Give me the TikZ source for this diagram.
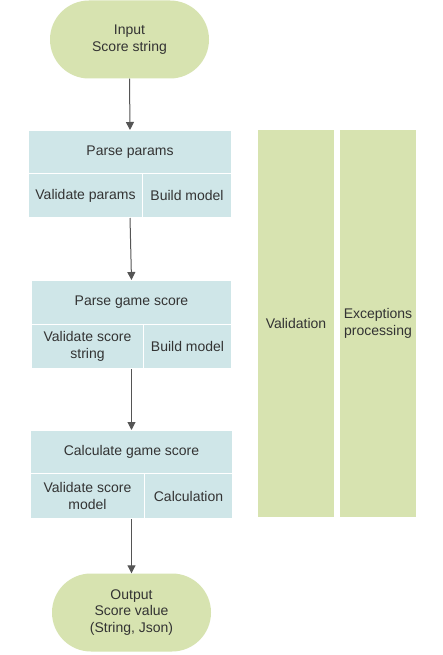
\documentclass[tikz,border=0pt]{standalone}
\usepackage{fontspec}
\setmainfont{Liberation Sans}
\usetikzlibrary{arrows.meta}
\definecolor{grn}{HTML}{D7E3B0}
\definecolor{blu}{HTML}{CFE6E8}
\definecolor{txt}{HTML}{333333}
\definecolor{arr}{HTML}{555555}
\begin{document}
\begin{tikzpicture}[x=1pt,y=-1pt,
  font=\fontsize{14}{16.5}\selectfont, text=txt,
  term/.style={fill=grn, rounded corners=39pt, minimum width=159pt, minimum height=78pt, align=center, inner sep=0pt},
  cell/.style={fill=blu, draw=white, line width=1pt, anchor=north west, align=center, inner sep=0pt},
  lane/.style={fill=grn, draw=white, line width=1pt, anchor=north west, align=center, inner sep=0pt, minimum width=77pt, minimum height=388pt},
  flow/.style={draw=arr, line width=1pt, -{Triangle[length=8pt,width=8pt]}}]
\useasboundingbox (0,0) rectangle (442,655);
\fill[white] (0,0) rectangle (442,655);
% terminals
\node[term] (in) at (129.5,39.5) {Input\\Score string};
\node[term] (out) at (131.5,612.5) {Output\\Score value\\(String, Json)};
% block 1
\node[cell, minimum width=203pt, minimum height=43pt] (p1) at (28,130) {Parse params};
\node[cell, minimum width=114pt, minimum height=44pt] (p1a) at (28,173) {Validate params};
\node[cell, minimum width=89pt, minimum height=44pt] (p1b) at (142,173) {Build model};
% block 2
\node[cell, minimum width=200pt, minimum height=44pt] (p2) at (31,280) {Parse game score};
\node[cell, minimum width=112pt, minimum height=44pt] (p2a) at (31,324) {Validate score\\string};
\node[cell, minimum width=88pt, minimum height=44pt] (p2b) at (143,324) {Build model};
% block 3
\node[cell, minimum width=202pt, minimum height=43pt] (p3) at (30,430) {Calculate game score};
\node[cell, minimum width=114pt, minimum height=45pt] (p3a) at (30,473) {Validate score\\model};
\node[cell, minimum width=88pt, minimum height=45pt] (p3b) at (144,473) {Calculation};
% lanes
\node[lane] (val) at (257,129) {Validation};
\node[lane] (exc) at (339,129) {Exceptions\\processing};
% arrows
\draw[flow] (in.south) -- (p1.north);
\draw[flow] (p1.north |- p1a.south) -- (p2.north);
\draw[flow] (p2.north |- p2a.south) -- (p3.north);
\draw[flow] (p3.north |- p3a.south) -- (out.north);
\end{tikzpicture}
\end{document}
